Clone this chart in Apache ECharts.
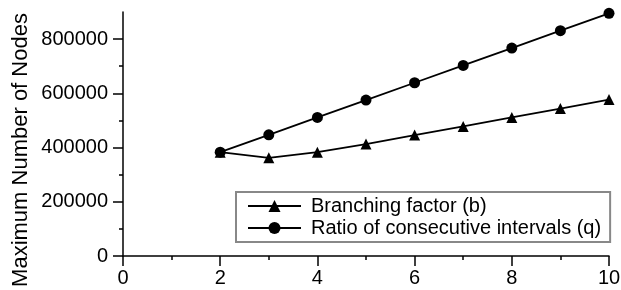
<!DOCTYPE html>
<html>
<head>
<meta charset="utf-8">
<script src="https://cdn.jsdelivr.net/npm/echarts@6/dist/echarts.min.js"></script>
<style>
  html, body { margin: 0; padding: 0; background: #fff; }
  #chart { width: 621px; height: 290px; }
</style>
</head>
<body>
<div id="chart"></div>
<script>
// values
const xValues = [2, 3, 4, 5, 6, 7, 8, 9, 10];
const branching = [383000, 362000, 383000, 413000, 446000, 478000, 511000, 544000, 577000];
const ratio = [383000, 447000, 511000, 575000, 639000, 703000, 767000, 831000, 895000];
const yMajorTicks = [0, 200000, 400000, 600000, 800000];
const yMinorTicks = [100000, 300000, 500000, 700000];

const FONT = "Liberation Sans, Arial, sans-serif";

const myChart = echarts.init(document.getElementById("chart"), null, { renderer: "canvas" });

const pairs = (ys) => xValues.map((x, i) => [x, ys[i]]);

const options = {
  animation: false,
  backgroundColor: "#fff",
  textStyle: { fontFamily: FONT, color: "#000" },
  grid: { left: 123, right: 12, top: 12, bottom: 34, outerBoundsMode: "none" },
  // y axis title, placed by hand (sits lower than the axis middle)
  graphic: [
    {
      type: "text",
      x: 20.5,
      y: 150,
      rotation: Math.PI / 2,
      style: {
        text: "Maximum Number of Nodes",
        font: "22px " + FONT,
        fill: "#000",
        textAlign: "center",
        textVerticalAlign: "middle",
      },
    },
  ],
  legend: {
    orient: "vertical",
    left: 236,
    top: 192,
    padding: [4, 9, 4, 11],
    itemGap: 2,
    itemWidth: 53,
    itemHeight: 15,
    borderColor: "#888",
    borderWidth: 2,
    textStyle: { fontFamily: FONT, fontSize: 20, color: "#000", padding: [0, 0, 0, 5] },
    data: ["Branching factor (b)", "Ratio of consecutive intervals (q)"],
  },
  xAxis: {
    type: "value",
    min: 0,
    max: 10,
    interval: 2,
    axisLine: { lineStyle: { color: "#000", width: 1.5 } },
    axisTick: { length: 10, lineStyle: { color: "#000", width: 1.5 } },
    minorTick: { show: true, splitNumber: 2, length: 4, lineStyle: { color: "#000", width: 1.5 } },
    splitLine: { show: false },
    axisLabel: { fontFamily: FONT, fontSize: 20, color: "#000", margin: 12 },
  },
  yAxis: [
    {
      type: "value",
      position: "left",
      min: 0,
      max: 900000,
      interval: 100000,
      axisLine: { show: true, lineStyle: { color: "#000", width: 1.5 } },
      axisTick: { show: true, length: 10, customValues: yMajorTicks, lineStyle: { color: "#000", width: 1.5 } },
      axisLabel: {
        customValues: yMajorTicks,
        formatter: (v) => String(v),
        fontFamily: FONT,
        fontSize: 20,
        color: "#000",
        margin: 15,
      },
      splitLine: { show: false },
    },
    {
      type: "value",
      position: "left",
      min: 0,
      max: 900000,
      interval: 100000,
      axisLine: { show: false },
      axisTick: { show: true, length: 4, customValues: yMinorTicks, lineStyle: { color: "#000", width: 1.5 } },
      axisLabel: { show: false },
      splitLine: { show: false },
    },
  ],
  series: [
    {
      name: "Branching factor (b)",
      type: "line",
      data: pairs(branching),
      symbol: "triangle",
      symbolSize: 11,
      itemStyle: { color: "#000" },
      lineStyle: { color: "#000", width: 1.8 },
    },
    {
      name: "Ratio of consecutive intervals (q)",
      type: "line",
      data: pairs(ratio),
      symbol: "circle",
      symbolSize: 11,
      itemStyle: { color: "#000" },
      lineStyle: { color: "#000", width: 1.8 },
    },
  ],
};

myChart.setOption(options);
</script>
</body>
</html>
